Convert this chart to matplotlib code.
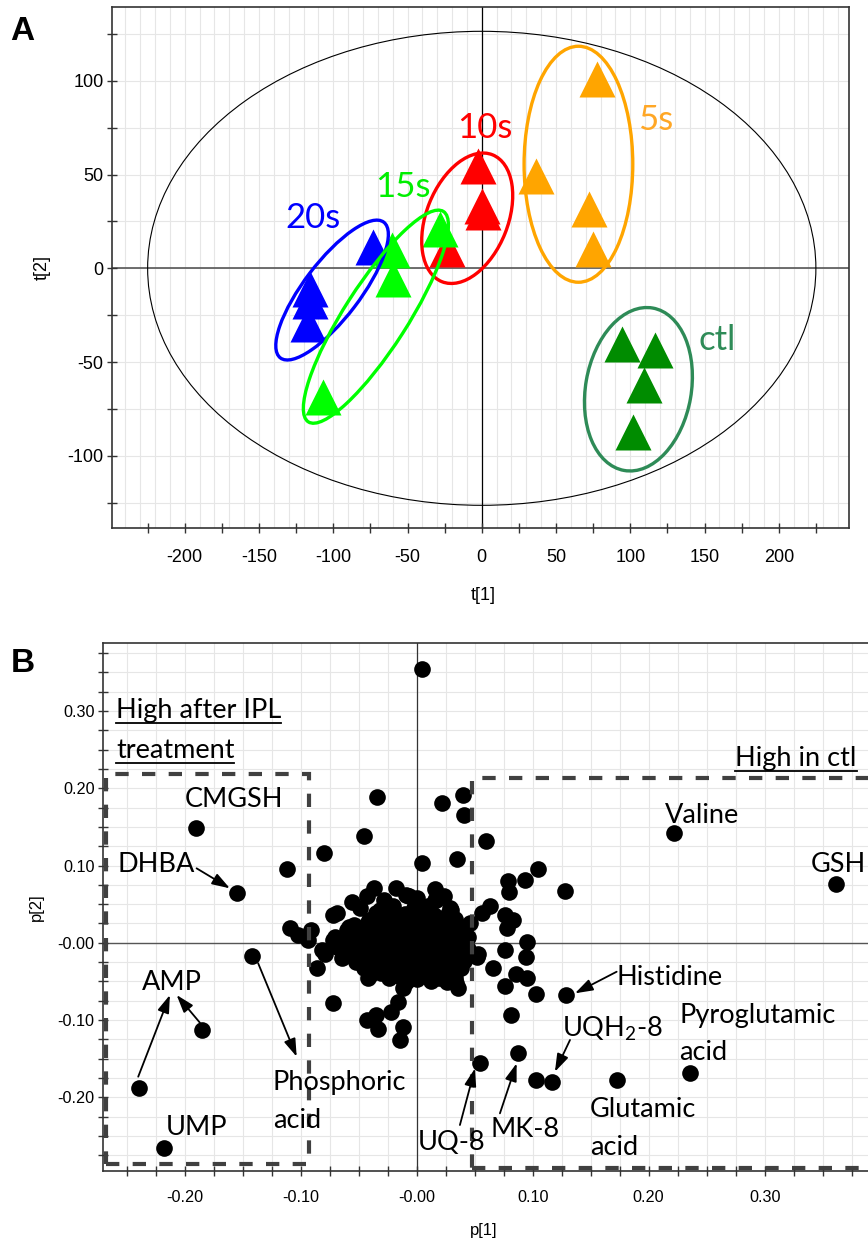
import numpy as np
import matplotlib
matplotlib.use('Agg')
import matplotlib.pyplot as plt
from matplotlib.patches import Ellipse, Rectangle
from matplotlib.transforms import ScaledTranslation, IdentityTransform
from matplotlib.lines import Line2D

plt.rcParams['mathtext.default'] = 'regular'
plt.rcParams['axes.unicode_minus'] = False

# ---------------- panel A : PCA scores ----------------
t1_ctl = [94.3, 116.7, 109.3, 102.1]
t2_ctl = [-40.5, -43.5, -62.2, -87.3]
t1_5s = [77.4, 36.6, 72.3, 74.7]
t2_5s = [100.9, 49.3, 31.5, 10.2]
t1_10s = [-2.3, 0.4, 1.1, -23.6]
t2_10s = [54.7, 33.3, 30.2, 10.3]
t1_15s = [-28.1, -60.6, -59.5, -106.7]
t2_15s = [20.9, 9.8, -5.8, -68.9]
t1_20s = [-73.0, -115.6, -115.6, -117.2]
t2_20s = [11.1, -11.0, -17.3, -29.7]

hotelling = [225.0, 126.4]   # semi axes of the T2 ellipse

# group ellipses (centre in data units, size in pixels)
ell_names = ['5s', '10s', '20s', '15s', 'ctl']
ell_cx = [65.1, -9.8, -100.8, -71.3, 105.5]
ell_cy = [55.5, 26.7, -11.6, -25.8, -64.5]
ell_w = [108.7, 136.6, 170.6, 250.0, 164.9]
ell_h = [236.0, 81.5, 56.0, 63.0, 105.7]
ell_ang = [0, 68.3, 52.7, 57.3, 80]

grp_lab_x = [117.4, 2.0, -113.9, -53.3, 158.8]
grp_lab_y = [73.8, 69.5, 21.3, 38.2, -43.6]

# ---------------- panel B : loadings ----------------
p1 = [-0.190, -0.155, -0.112, -0.080, -0.045, -0.034, 0.005, 0.005, 0.022, 0.040,
      0.041, 0.060, 0.035, 0.105, 0.093, 0.079, 0.080, 0.128, 0.222, 0.3615,
      0.016, 0.016, 0.030, 0.063, 0.056, 0.076, 0.083, 0.078, 0.046,
      0.095, 0.076, 0.094, 0.066, 0.086, 0.095, 0.076, 0.103, 0.036, 0.053,
      0.129, 0.081, 0.087, 0.055, 0.103, 0.117, 0.173, 0.236,
      -0.142, -0.239, -0.185, -0.218,
      -0.086, -0.072, -0.043, -0.033, -0.035, -0.022, -0.012, -0.014, -0.016, -0.012,
      -0.042, -0.033, -0.109, -0.102, -0.082, -0.072, -0.060, -0.094, -0.058, -0.079,
      -0.069, -0.056, -0.043, -0.037, -0.049, -0.018, -0.009, 0.017, 0.029, 0.006,
      -0.032, -0.007, -0.091, -0.072, -0.040, -0.010, 0.034, 0.052,
      -0.020, -0.002, 0.010, 0.000, -0.028, 0.024,
      -0.041, -0.028, -0.017, -0.004, 0.009, 0.020, 0.033,
      -0.060, -0.049, -0.036, -0.024, -0.012, 0.001, 0.012, 0.024, 0.036,
      -0.064, -0.053, -0.041, -0.030, -0.019, -0.007, 0.004, 0.016, 0.027, 0.039,
      -0.058, -0.046, -0.034, -0.022, -0.011, 0.002, 0.013, 0.025, 0.037, 0.044,
      -0.052, -0.039, -0.027, -0.015, -0.003, 0.009, 0.021, 0.032, 0.041,
      -0.031, -0.018, -0.006, 0.007, 0.019, 0.030,
      -0.008, 0.012, 0.026,
      -0.035, -0.023, -0.010, 0.003, 0.015, 0.027,
      -0.054, -0.043, -0.030, -0.018, -0.006, 0.006, 0.018, 0.030, 0.041,
      -0.070, -0.058, -0.047, -0.035, -0.024, -0.013, -0.001, 0.010, 0.022, 0.033, 0.044,
      -0.069, -0.052, -0.040, -0.028, -0.016, -0.005, 0.008, 0.019, 0.031, 0.042,
      -0.064, -0.052, -0.040, -0.028, -0.017, -0.005, 0.007, 0.019, 0.031, 0.043,
      -0.045, -0.033, -0.021, -0.009, 0.003, 0.015, 0.026, 0.038,
      -0.024, -0.013, 0.000, 0.019, 0.033]
p2 = [0.148, 0.065, 0.096, 0.116, 0.138, 0.189, 0.354, 0.103, 0.181, 0.191,
      0.165, 0.132, 0.109, 0.096, 0.081, 0.080, 0.066, 0.067, 0.142, 0.076,
      0.070, 0.055, 0.043, 0.047, 0.038, 0.036, 0.030, 0.019, 0.026,
      0.001, -0.009, -0.018, -0.033, -0.040, -0.046, -0.056, -0.066, -0.059, -0.014,
      -0.068, -0.094, -0.143, -0.156, -0.178, -0.180, -0.177, -0.168,
      -0.017, -0.188, -0.113, -0.266,
      -0.033, -0.078, -0.100, -0.111, -0.093, -0.089, -0.109, -0.126, -0.076, -0.059,
      -0.046, -0.035, 0.019, 0.010, -0.009, 0.036, -0.012, 0.004, 0.021, -0.014,
      0.038, 0.053, 0.060, 0.071, 0.045, 0.071, 0.062, 0.055, 0.045, 0.038,
      0.042, 0.060, 0.017, 0.004, -0.042, -0.052, -0.052, -0.018,
      0.047, 0.045, 0.048, 0.058, 0.055, 0.060,
      0.030, 0.031, 0.029, 0.032, 0.030, 0.028, 0.031,
      0.016, 0.017, 0.015, 0.016, 0.018, 0.015, 0.017, 0.014, 0.016,
      0.002, 0.003, 0.001, 0.002, 0.003, 0.001, 0.002, 0.003, 0.001, 0.002,
      -0.012, -0.011, -0.013, -0.012, -0.010, -0.013, -0.012, -0.011, -0.013, -0.008,
      -0.025, -0.027, -0.026, -0.024, -0.027, -0.026, -0.025, -0.027, -0.024,
      -0.039, -0.041, -0.040, -0.038, -0.041, -0.039,
      -0.050, -0.049, -0.051,
      0.038, 0.039, 0.037, 0.039, 0.036, 0.037,
      0.023, 0.024, 0.022, 0.023, 0.024, 0.022, 0.023, 0.022, 0.021,
      0.008, 0.010, 0.009, 0.008, 0.010, 0.009, 0.008, 0.010, 0.009, 0.008, 0.007,
      -0.005, -0.004, -0.006, -0.005, -0.004, -0.006, -0.005, -0.004, -0.006, -0.002,
      -0.019, -0.018, -0.020, -0.019, -0.018, -0.020, -0.019, -0.018, -0.020, -0.017,
      -0.032, -0.033, -0.034, -0.032, -0.033, -0.034, -0.032, -0.033,
      -0.046, -0.045, -0.047, -0.046, -0.045]

# labels: text, x, baseline y, alignment
met_text = ['CMGSH', 'DHBA', 'Valine', 'GSH', 'Histidine', 'Pyroglutamic', 'acid',
            'UQH$_2$-8', 'Glutamic', 'acid', 'MK-8', 'UQ-8', 'Phosphoric', 'acid',
            'AMP', 'UMP']
met_x = [-0.1575, -0.2241, 0.2459, 0.3632, 0.1724, 0.2264, 0.2264,
         0.125, 0.1494, 0.1494, 0.0931, 0.0304, -0.1241, -0.1241,
         -0.2109, -0.1894]
met_y = [0.1761, 0.0920, 0.1554, 0.0920, -0.0546, -0.1038, -0.1516,
         -0.1215, -0.2250, -0.2745, -0.2508, -0.2680, -0.1904, -0.2400,
         -0.0611, -0.2486]
met_ha = ['center', 'center', 'center', 'center', 'left', 'left', 'left',
          'left', 'left', 'left', 'center', 'center', 'left', 'left',
          'center', 'center']

# arrows: tail -> head
arr_x0 = [-0.1897, -0.240, -0.1868, -0.1366, 0.1724, 0.1322, 0.0718, 0.0373]
arr_y0 = [0.0964, -0.1732, -0.1034, -0.0265, -0.0374, -0.1257, -0.2206, -0.2357]
arr_x1 = [-0.161, -0.2127, -0.2069, -0.1034, 0.1365, 0.1192, 0.0862, 0.0503]
arr_y1 = [0.0705, -0.0675, -0.0675, -0.1473, -0.0653, -0.1668, -0.1559, -0.1624]

W, H = 868, 1242
fig = plt.figure(figsize=(W / 100, H / 100), dpi=100)

tickfont = 'Liberation Sans'
labfont = 'Lato'

def px_axes(l, t, r, b):
    return fig.add_axes([l / W, 1 - b / H, (r - l) / W, (b - t) / H])

def style_axes(ax, fs):
    for s in ax.spines.values():
        s.set_color('#333333')
        s.set_linewidth(1.2)
    ax.tick_params(which='both', direction='inout', length=6.5, width=1.0,
                   colors='#333333', labelcolor='black', labelsize=fs)
    for lab in ax.get_xticklabels() + ax.get_yticklabels():
        lab.set_fontfamily(tickfont)

# ---- A ----
axA = px_axes(112.3, 7.3, 849, 528)
for gx in np.arange(-240, 250, 10):
    axA.axvline(gx, color='#e6e6e6', lw=0.8, zorder=0)
for gy in np.arange(-125, 140, 25):
    axA.axhline(gy, color='#e6e6e6', lw=0.8, zorder=0)
axA.axhline(0, color='#555555', lw=1.2, zorder=1)
axA.axvline(0, color='black', lw=0.9, zorder=1)
axA.add_patch(Ellipse((0, 0), 2 * hotelling[0], 2 * hotelling[1], fill=False,
                      ec='black', lw=0.8, zorder=2))

axA.plot(t1_ctl, t2_ctl, '^', ms=26, color='#008c00', mec='none', zorder=3)
axA.plot(t1_5s, t2_5s, '^', ms=26, color='#ffa500', mec='none', zorder=3)
axA.plot(t1_10s, t2_10s, '^', ms=26, color='#ff0000', mec='none', zorder=3)
axA.plot(t1_20s, t2_20s, '^', ms=26, color='#0000ff', mec='none', zorder=3)
axA.plot(t1_15s, t2_15s, '^', ms=26, color='#00ff00', mec='none', zorder=3)

ell_col = {'5s': '#ffa500', '10s': '#ff0000', '20s': '#0000ff', '15s': '#00ff00',
           'ctl': '#2e8b57'}
txt_col = {'5s': '#ffa726', '10s': '#ff0000', '20s': '#0000ff', '15s': '#00ee00',
           'ctl': '#2e8b57'}
for i, g in enumerate(ell_names):
    tr = fig.dpi_scale_trans + ScaledTranslation(ell_cx[i], ell_cy[i], axA.transData)
    e = Ellipse((0, 0), ell_w[i] / 100, ell_h[i] / 100, angle=ell_ang[i],
                transform=tr, fill=False, ec=ell_col[g], lw=2.4, zorder=4)
    axA.add_patch(e)
    axA.text(grp_lab_x[i], grp_lab_y[i], g, color=txt_col[g], fontsize=25,
             family=labfont, ha='center', va='baseline', zorder=5)
axA.set_xlim(-248.8, 247.3)
axA.set_ylim(-138.5, 139.2)

axA.set_xticks(np.arange(-200, 201, 50))
axA.set_xticks(np.arange(-225, 247, 25), minor=True)
axA.set_yticks([-100, -50, 0, 50, 100])
axA.set_yticks(np.arange(-125, 139, 25), minor=True)
style_axes(axA, 13)
axA.tick_params(axis='x', which='major', pad=12)
axA.tick_params(axis='y', which='major', pad=3)

fig.text(483 / W, 1 - 596 / H, 't[1]', ha='center', va='center', fontsize=13,
         family=tickfont)
fig.text(42 / W, 1 - 268 / H, 't[2]', ha='center', va='center', fontsize=13,
         family=tickfont, rotation=90)
fig.text(22.5 / W, 1 - 32 / H, 'A', ha='center', va='center', fontsize=24,
         fontweight='bold', family=tickfont)

# ---- B ----
axB = px_axes(103.3, 643.3, 870, 1171)
for gx in np.arange(-0.25, 0.39, 0.025):
    axB.axvline(gx, color='#e6e6e6', lw=0.8, zorder=0)
for gy in np.arange(-0.275, 0.39, 0.025):
    axB.axhline(gy, color='#e6e6e6', lw=0.8, zorder=0)
axB.axhline(0, color='#555555', lw=1.0, zorder=1)
axB.axvline(0, color='#333333', lw=0.9, zorder=1)

axB.plot(p1, p2, 'o', ms=12, color='black', mec='none', zorder=3)

axB.add_patch(Rectangle((-0.268, -0.2866), 0.1754, 0.5056, fill=False, ec='#404040',
                        lw=3, linestyle=(0, (3.2, 3.2)), zorder=4))
axB.add_patch(Rectangle((0.0474, -0.2917), 0.4, 0.5053, fill=False, ec='#404040',
                        lw=3, linestyle=(0, (3.2, 3.2)), zorder=4))

for i in range(len(met_text)):
    axB.text(met_x[i], met_y[i], met_text[i], fontsize=19.5, family=labfont,
             ha=met_ha[i], va='baseline', zorder=6)
for i in range(len(arr_x0)):
    axB.annotate('', xy=(arr_x1[i], arr_y1[i]), xytext=(arr_x0[i], arr_y0[i]),
                 arrowprops=dict(arrowstyle='-|>,head_length=0.9,head_width=0.3',
                                 color='black', lw=1.3, shrinkA=0, shrinkB=0,
                                 mutation_scale=12), zorder=6)

head_txt = [axB.text(-0.2592, 0.2904, 'High after IPL', fontsize=19.5, family=labfont,
                     ha='left', va='baseline', zorder=6),
            axB.text(-0.2592, 0.2387, 'treatment', fontsize=19.5, family=labfont,
                     ha='left', va='baseline', zorder=6),
            axB.text(0.3793, 0.2287, 'High in ctl', fontsize=19.5, family=labfont,
                     ha='right', va='baseline', zorder=6)]

axB.set_xlim(-0.2701, 0.3908)
axB.set_ylim(-0.2952, 0.3875)
axB.set_xticks([-0.2, -0.1, 0.0, 0.1, 0.2, 0.3])
axB.set_xticklabels(['-0.20', '-0.10', '-0.00', '0.10', '0.20', '0.30'])
axB.set_xticks(np.arange(-0.25, 0.39, 0.025), minor=True)
axB.set_yticks([-0.2, -0.1, 0.0, 0.1, 0.2, 0.3])
axB.set_yticklabels(['-0.20', '-0.10', '-0.00', '0.10', '0.20', '0.30'])
axB.set_yticks(np.arange(-0.275, 0.39, 0.025), minor=True)
style_axes(axB, 11.7)
axB.spines['right'].set_visible(False)
axB.tick_params(axis='x', which='major', pad=10.4)
axB.tick_params(axis='y', which='major', pad=3)

fig.text(484 / W, 1 - 1231 / H, 'p[1]', ha='center', va='center', fontsize=12,
         family=tickfont)
fig.text(36.5 / W, 1 - 907 / H, 'p[2]', ha='center', va='center', fontsize=12,
         family=tickfont, rotation=90)
fig.text(23 / W, 1 - 664 / H, 'B', ha='center', va='center', fontsize=24,
         fontweight='bold', family=tickfont)

# underline the headings
fig.canvas.draw()
for t in head_txt:
    bb = t.get_window_extent()
    xb, yb = axB.transData.transform(t.get_position())
    fig.add_artist(Line2D([bb.x0, bb.x1], [yb - 5, yb - 5], color='black', lw=1.3,
                          transform=IdentityTransform()))

fig.savefig('out.png', dpi=100)
